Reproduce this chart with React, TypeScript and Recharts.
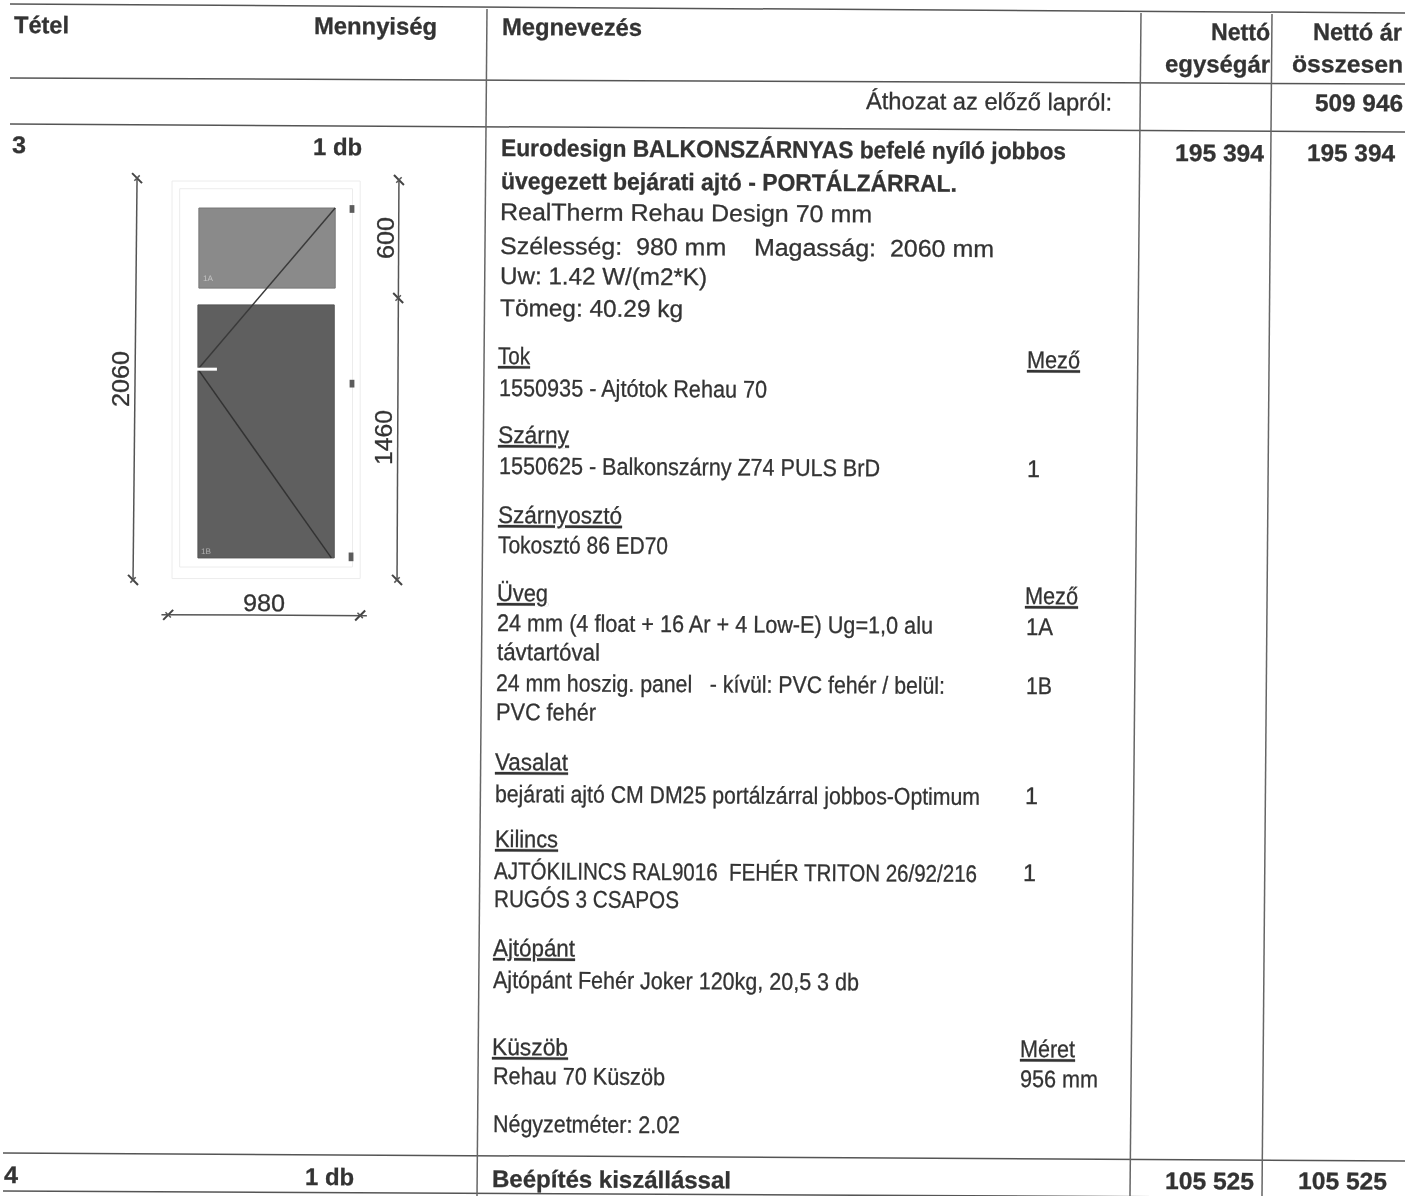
import * as React from 'react'
import { ReferenceArea, ReferenceLine, Scatter, ScatterChart, XAxis, YAxis } from 'recharts'

// Scanned quote page, drawn as a chart over two hidden coordinate systems:
// page pixels for the table, millimetres for the door sketch.

const headerLabels = ['Tétel', 'Mennyiség', 'Megnevezés', 'Nettó', 'egységár', 'Nettó ár', 'összesen']
const carryLabels = ['Áthozat az előző lapról:', '509 946']
const itemLabels = ['3', '1 db', '195 394', '195 394', '4', '1 db', 'Beépítés kiszállással', '105 525', '105 525']
const titleLines = [
  'Eurodesign BALKONSZÁRNYAS befelé nyíló jobbos',
  'üvegezett bejárati ajtó - PORTÁLZÁRRAL.',
]
const specLines = [
  'RealTherm Rehau Design 70 mm',
  'Szélesség:  980 mm    Magasság:  2060 mm',
  'Uw: 1.42 W/(m2*K)',
  'Tömeg: 40.29 kg',
]
const sectionTitles = ['Tok', 'Mező', 'Szárny', 'Szárnyosztó', 'Üveg', 'Mező', 'Vasalat', 'Kilincs', 'Ajtópánt', 'Küszöb', 'Méret']
const sectionLines = [
  '1550935 - Ajtótok Rehau 70',
  '1550625 - Balkonszárny Z74 PULS BrD',
  '1',
  'Tokosztó 86 ED70',
  '24 mm (4 float + 16 Ar + 4 Low-E) Ug=1,0 alu',
  '1A',
  'távtartóval',
  '24 mm hoszig. panel   - kívül: PVC fehér / belül:',
  '1B',
  'PVC fehér',
  'bejárati ajtó CM DM25 portálzárral jobbos-Optimum',
  '1',
  'AJTÓKILINCS RAL9016  FEHÉR TRITON 26/92/216',
  '1',
  'RUGÓS 3 CSAPOS',
  'Ajtópánt Fehér Joker 120kg, 20,5 3 db',
  'Rehau 70 Küszöb',
  '956 mm',
  'Négyzetméter: 2.02',
]
const doorWidth = 980
const doorHeight = 2060
const topPanelHeight = 600
const bottomPanelHeight = 1460

// layout below, text above
const W = 1419
const H = 1196
const MM_X = 0.192
const MM_Y = 0.193
const DOOR_LEFT = 172
const DOOR_TOP = 181

type Slot = [number, number, number]

const headerSlots: Slot[] = [[14, 33, 69], [314, 34, 437], [502, 35, 642], [1211, 40, 1270], [1165, 72, 1270], [1313, 40, 1402], [1292, 72, 1403]]
const carrySlots: Slot[] = [[866, 109, 1112], [1315, 111, 1403]]
const itemSlots: Slot[] = [[12, 153, 26], [313, 155, 362], [1175, 161, 1264], [1307, 161, 1395], [4, 1183, 18], [305, 1185, 354], [492, 1187, 731], [1165, 1189, 1254], [1298, 1189, 1387]]
const titleSlots: Slot[] = [[501, 156, 1066], [501, 189, 957]]
const specSlots: Slot[] = [[500, 220, 872], [500, 254, 994], [500, 284, 707], [500, 316, 683]]
const sectionTitleSlots: Slot[] = [[498, 364, 530], [1027, 368, 1080], [498, 443, 569], [498, 523, 622], [497, 601, 548], [1025, 604, 1078], [495, 770, 568], [495, 847, 558], [493, 956, 575], [492, 1055, 568], [1020, 1057, 1075]]
const sectionSlots: Slot[] = [
  [499, 396, 767], [499, 474, 880], [1027, 477, 1040], [498, 553, 668], [497, 631, 933], [1026, 635, 1053],
  [497, 660, 600], [496, 691, 945], [1026, 694, 1052], [496, 720, 596], [495, 802, 980], [1025, 804, 1038],
  [494, 879, 977], [1023, 881, 1036], [494, 907, 679], [493, 988, 859], [493, 1084, 665], [1020, 1087, 1098], [493, 1132, 680],
]

const pageRules = [
  [10, 4, 1405, 13], [10, 78, 1405, 84], [10, 124, 1405, 132], [3, 1153, 1405, 1161], [3, 1191, 1405, 1198],
  [487, 9, 477, 1196], [1141, 13, 1130, 1196], [1272, 14, 1262, 1196],
]

interface Row {
  x: number
  y: number
  text: string
  right?: number
  size: number
  bold?: boolean
  underline?: boolean
  angle?: number
  color?: string
}

function place(texts: string[], slots: Slot[], style: Partial<Row>): Row[] {
  return texts.map((text, i) => ({ text, x: slots[i][0], y: slots[i][1], right: slots[i][2], size: 24, ...style }))
}

const boldCount = (t: string) => /^[\d\s]+$|db$|Beép/.test(t)

const rows: Row[] = [
  ...place(headerLabels, headerSlots, { bold: true }),
  ...place(carryLabels, carrySlots, {}).map((r, i) => ({ ...r, bold: i === 1 })),
  ...place(itemLabels, itemSlots, {}).map((r) => ({ ...r, bold: boldCount(r.text) })),
  ...place(titleLines, titleSlots, { bold: true }),
  ...place(specLines, specSlots, {}),
  ...place(sectionTitles, sectionTitleSlots, { underline: true }),
  ...place(sectionLines, sectionSlots, {}),
  { text: String(doorHeight), x: 129, y: 407, right: 129 + 56, size: 24, angle: -90 },
  { text: String(topPanelHeight), x: 394, y: 259, right: 394 + 42, size: 24, angle: -90 },
  { text: String(bottomPanelHeight), x: 392, y: 465, right: 392 + 55, size: 24, angle: -90 },
  { text: String(doorWidth), x: 243, y: 611, right: 285, size: 24 },
  { text: '1A', x: 203, y: 281, right: 213, size: 8, color: '#c4c4c4' },
  { text: '1B', x: 201, y: 554, right: 211, size: 8, color: '#b0b0b0' },
]

// invisible series so the millimetre axes have something to scale
const doorCorners = [{ x: 0, y: 0 }, { x: doorWidth, y: doorHeight }]

function TextMark(props: any) {
  const { cx, cy, payload } = props
  const r: Row = payload
  const angle = r.angle ?? 0.35
  const fill = r.color ?? '#333'
  return (
    <text
      x={cx}
      y={cy}
      fontFamily="Liberation Sans, Arial, sans-serif"
      fontSize={r.size}
      fontWeight={r.bold ? 700 : 400}
      fill={fill}
      stroke={fill}
      strokeWidth={r.size > 10 ? 0.3 : 0}
      textLength={r.right != null ? r.right - r.x : undefined}
      lengthAdjust="spacingAndGlyphs"
      textDecoration={r.underline ? 'underline' : undefined}
      transform={`rotate(${angle} ${cx} ${cy})`}
      style={{ whiteSpace: 'pre' }}
    >
      {r.text}
    </text>
  )
}

function doorLine(x1: number, y1: number, x2: number, y2: number, stroke = '#555', strokeWidth = 1.5) {
  return (
    <ReferenceLine
      xAxisId="door"
      yAxisId="door"
      segment={[{ x: x1, y: y1 }, { x: x2, y: y2 }]}
      stroke={stroke}
      strokeWidth={strokeWidth}
      ifOverflow="visible"
    />
  )
}

// x-shaped mark at a dimension line end, long slash running down to the right
function vTick(x: number, y: number) {
  return (
    <>
      {doorLine(x - 26, y - 26, x + 26, y + 26, '#444', 2)}
      {doorLine(x - 14, y + 14, x + 14, y - 14, '#555', 1.5)}
    </>
  )
}

// same for the horizontal dimension, long slash running up to the right
function hTick(x: number, y: number) {
  return (
    <>
      {doorLine(x - 26, y + 26, x + 26, y - 26, '#444', 2)}
      {doorLine(x - 14, y - 14, x + 14, y + 14, '#555', 1.5)}
    </>
  )
}

export default function App() {
  const doorX: [number, number] = [-DOOR_LEFT / MM_X, (W - DOOR_LEFT) / MM_X]
  const doorY: [number, number] = [-DOOR_TOP / MM_Y, (H - DOOR_TOP) / MM_Y]
  const faint = '#ececec'
  const area = (x1: number, y1: number, x2: number, y2: number, fill: string, stroke = 'none') => (
    <ReferenceArea xAxisId="door" yAxisId="door" x1={x1} x2={x2} y1={y1} y2={y2} fill={fill} fillOpacity={1} stroke={stroke} ifOverflow="visible" />
  )
  return (
    <div style={{ position: 'absolute', left: 0, top: 0, width: W, height: H, background: '#fff', filter: 'blur(0.5px)', overflow: 'hidden' }}>
      <ScatterChart width={W} height={H} margin={{ top: 0, right: 0, bottom: 0, left: 0 }}>
        <XAxis type="number" dataKey="x" domain={[0, W]} allowDataOverflow hide />
        <YAxis type="number" dataKey="y" domain={[0, H]} allowDataOverflow reversed hide />
        <XAxis xAxisId="door" type="number" dataKey="x" domain={doorX} allowDataOverflow hide />
        <YAxis yAxisId="door" type="number" dataKey="y" domain={doorY} allowDataOverflow reversed hide />

        {pageRules.map(([x1, y1, x2, y2], i) => (
          <ReferenceLine
            key={i}
            segment={[{ x: x1, y: y1 }, { x: x2, y: y2 }]}
            stroke={i < 5 ? '#555' : '#666'}
            strokeWidth={1.5}
            ifOverflow="visible"
          />
        ))}

        <Scatter xAxisId="door" yAxisId="door" data={doorCorners} isAnimationActive={false} shape={() => null} />

        {/* door sketch */}
        {area(0, 0, doorWidth, doorHeight, '#fff', faint)}
        {area(40, 40, doorWidth - 40, doorHeight - 60, '#fff', faint)}
        {area(140, 140, 850, 555, '#8a8a8a', '#777')}
        {area(135, 642, 845, 1953, '#5f5f5f', '#555')}
        {doorLine(850, 140, 135, 975, '#3a3a3a')}
        {doorLine(135, 975, 830, 1953, '#333')}
        {doorLine(120, 975, 234, 975, '#fff', 3)}
        {area(925, 125, 950, 165, '#5c5c5c')}
        {area(925, 1030, 950, 1070, '#5c5c5c')}
        {area(920, 1925, 945, 1970, '#5c5c5c')}

        {/* dimension lines */}
        {doorLine(-182, -20, -203, doorHeight + 12)}
        {vTick(-182, -15)}
        {vTick(-203, doorHeight + 7)}
        {doorLine(1182, -10, 1172, doorHeight + 12)}
        {vTick(1182, -5)}
        {vTick(1178, 606)}
        {vTick(1172, doorHeight + 7)}
        {doorLine(-55, 2247, doorWidth + 35, 2252)}
        {hTick(-20, 2248)}
        {hTick(doorWidth, 2251)}

        <Scatter data={rows} isAnimationActive={false} shape={TextMark} />
      </ScatterChart>
    </div>
  )
}
